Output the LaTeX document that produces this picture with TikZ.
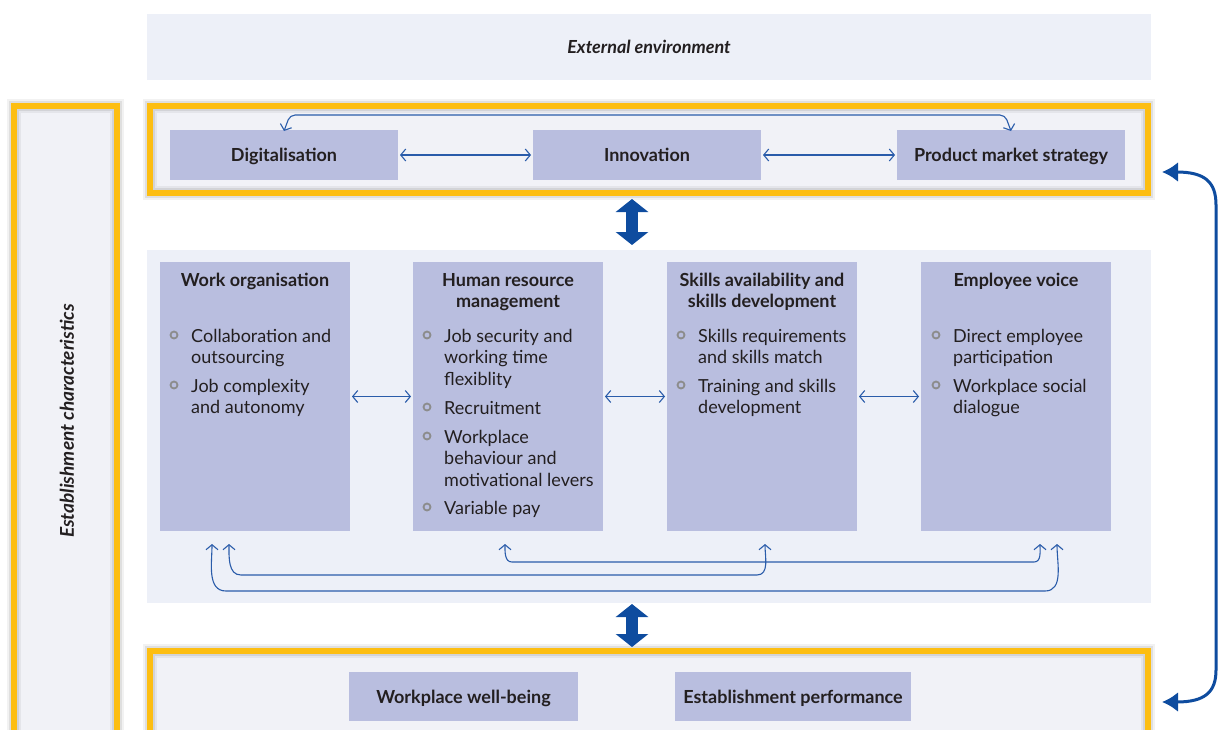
\documentclass[tikz,border=0pt]{standalone}
\usepackage{fontspec}
\setmainfont{Lato}
\usetikzlibrary{arrows.meta,positioning}
\definecolor{ink}{HTML}{231F20}
\definecolor{envbg}{HTML}{EDF0F8}
\definecolor{frbg}{HTML}{F1F2F7}
\definecolor{boxbg}{HTML}{B9BEDF}
\definecolor{ylw}{HTML}{FDBE12}
\definecolor{dblue}{HTML}{0E4C9F}
\definecolor{lblue}{HTML}{2A5CAA}
\definecolor{bulgrey}{HTML}{8C8C8C}

\begin{document}
\begin{tikzpicture}[x=1pt,y=-1pt,
  txt/.style={text=ink,font=\fontsize{18}{21.5}\selectfont},
  hd/.style={txt,font=\fontsize{18}{21.5}\selectfont\bfseries,align=center,anchor=base,inner sep=0},
  itm/.style={txt,align=left,anchor=base west,inner sep=0},
  bul/.style={circle,draw=bulgrey,line width=1.8pt,minimum size=7pt,inner sep=0},
  bx/.style={fill=boxbg,txt,font=\fontsize{18}{21.5}\selectfont\bfseries,inner sep=0,outer sep=0,text height=17pt,text depth=4pt},
  col/.style={fill=boxbg,minimum width=190,minimum height=269,inner sep=0,outer sep=0},
  frame/.style={fill=frbg,inner sep=0,outer sep=0,
    postaction={draw=black,line width=14pt,opacity=.05},
    postaction={draw=black,line width=10pt,opacity=.08},
    postaction={draw=ylw,line width=6pt}},
  thinarr/.style={draw=lblue,line width=1.1pt,{Straight Barb[length=5pt,width=12pt]}-{Straight Barb[length=5pt,width=12pt]}},
  bigarr/.style={draw=dblue,line width=12pt,{Triangle[length=13pt,width=32pt]}-{Triangle[length=13pt,width=32pt]}},
  sidearr/.style={draw=dblue,line width=3pt,{Latex[length=16pt,width=20pt]}-{Latex[length=16pt,width=20pt]}}]
\useasboundingbox (0,0) rectangle (1218,729);

% outer frames
\node[fill=envbg,minimum width=1004,minimum height=66,inner sep=0,txt,font=\fontsize{18}{21.5}\selectfont\bfseries\itshape] (env) at (649,47) {External environment};
\node[frame,minimum width=103,minimum height=640] (estfr) at (65.5,426) {};
\node[rotate=90,txt,font=\fontsize{19}{21.5}\selectfont\bfseries\itshape] (est) at (67,421) {Establishment characteristics};
\node[frame,minimum width=998,minimum height=87] (topfr) at (649,149.5) {};
\node[fill=envbg,minimum width=1004,minimum height=353,inner sep=0,outer sep=0] (mid) at (649,426.5) {};
\node[frame,minimum width=998,minimum height=90] (botfr) at (649,696) {};

% strategy row
\node[bx,minimum width=228,minimum height=50] (dig) at (284,155) {Digitalisation};
\node[bx,minimum width=228,minimum height=50] (inn) at (647,155) {Innovation};
\node[bx,minimum width=228,minimum height=50] (pms) at (1011,155) {Product market strategy};
\draw[thinarr,shorten <=2pt,shorten >=2pt] (dig) -- (inn);
\draw[thinarr,shorten <=2pt,shorten >=2pt] (inn) -- (pms);
\draw[thinarr,rounded corners=5pt] ([yshift=-1pt]dig.north) -- ++(6,-16) -- ++(715,0) -- ([yshift=-1pt]pms.north);

% practice columns
\node[col] (wo) at (255,396.5) {};
\node[col] (hrm) at (508,396.5) {};
\node[col] (sk) at (762,396.5) {};
\node[col] (ev) at (1016,396.5) {};
\node[hd] (woh) at (255,286) {Work organisation};
\node[hd] (hrmh) at (508,307.5) {Human resource\\management};
\node[hd] (skh) at (762,307.5) {Skills availability and\\skills development};
\node[hd] (evh) at (1016,286) {Employee voice};

% items (placed at the baseline of their last line)
\node[itm] (wo1) at (191,363.5) {Collaboration and\\outsourcing};
\node[itm] (wo2) at (191,413.5) {Job complexity\\and autonomy};
\node[itm] (hrm1) at (444,385) {Job security and\\working time\\flexiblity};
\node[itm] (hrm2) at (444,414) {Recruitment};
\node[itm] (hrm3) at (444,486) {Workplace\\behaviour and\\motivational levers};
\node[itm] (hrm4) at (444,514) {Variable pay};
\node[itm] (sk1) at (698,363.5) {Skills requirements\\and skills match};
\node[itm] (sk2) at (698,413.5) {Training and skills\\development};
\node[itm] (ev1) at (953,363.5) {Direct employee\\participation};
\node[itm] (ev2) at (953,413.5) {Workplace social\\dialogue};
\foreach \bx/\by in {174/335,174/385,427/335,427/407,427/436,427/507,681/335,681/385,936/335,936/385}
  \node[bul] (b\bx-\by) at (\bx,\by) {};

\draw[thinarr,shorten <=2pt,shorten >=2pt] (wo) -- (hrm);
\draw[thinarr,shorten <=2pt,shorten >=2pt] (hrm) -- (sk);
\draw[thinarr,shorten <=2pt,shorten >=2pt] (sk) -- (ev);

% links under the columns
\draw[thinarr] ([xshift=-43pt,yshift=-13pt]wo.south) to[out=-90,in=180] ++(14,47) -- ++(819,0) to[out=0,in=-90] ([xshift=41pt,yshift=-13pt]ev.south);
\draw[thinarr] ([xshift=-26pt,yshift=-13pt]wo.south) to[out=-90,in=180] ++(12,31) -- ++(516,0) to[out=0,in=-90] ([xshift=3pt,yshift=-13pt]sk.south);
\draw[thinarr] ([xshift=-3pt,yshift=-13pt]hrm.south) to[out=-90,in=180] ++(7,18) -- ++(522,0) to[out=0,in=-90] ([xshift=24pt,yshift=-13pt]ev.south);

% outcomes
\node[bx,minimum width=229,minimum height=49] (wb) at (463.5,696.5) {Workplace well-being};
\node[bx,minimum width=236,minimum height=49] (perf) at (793,696.5) {Establishment performance};

% main links
\coordinate (ax) at (632,0);
\draw[bigarr,shorten <=6pt,shorten >=5pt] (topfr.south -| ax) -- (mid.north -| ax);
\draw[bigarr,shorten <=1pt,shorten >=4pt] (mid.south -| ax) -- (botfr.north -| ax);
\coordinate (rt) at (1162,172);
\coordinate (rb) at (1162,702);
\draw[sidearr] (rt) .. controls (1205,172) and (1216,182) .. (1216,205) -- (1216,670) .. controls (1216,692) and (1205,702) .. (rb);
\end{tikzpicture}
\end{document}
